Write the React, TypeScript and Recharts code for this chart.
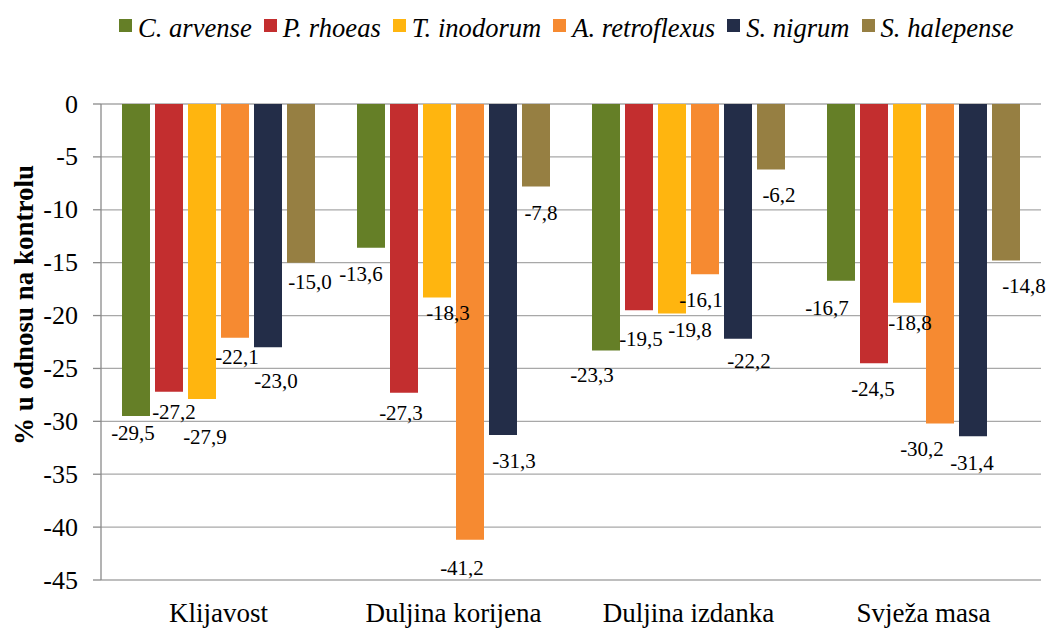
import React from 'react';
import { BarChart, Bar, XAxis, YAxis, CartesianGrid, Legend, LabelList } from 'recharts';

const categories = ['Klijavost', 'Duljina korijena', 'Duljina izdanka', 'Svježa masa'];
const seriesNames = ['C. arvense', 'P. rhoeas', 'T. inodorum', 'A. retroflexus', 'S. nigrum', 'S. halepense'];
const cArvense = [-29.5, -13.6, -23.3, -16.7];
const pRhoeas = [-27.2, -27.3, -19.5, -24.5];
const tInodorum = [-27.9, -18.3, -19.8, -18.8];
const aRetroflexus = [-22.1, -41.2, -16.1, -30.2];
const sNigrum = [-23.0, -31.3, -22.2, -31.4];
const sHalepense = [-15.0, -7.8, -6.2, -14.8];
const yTicks = [0, -5, -10, -15, -20, -25, -30, -35, -40, -45];

const seriesValues = [cArvense, pRhoeas, tInodorum, aRetroflexus, sNigrum, sHalepense];
const colors = ['#657F27', '#C32E2F', '#FFB50F', '#F68A31', '#232D48', '#967F42'];

// data-label nudges [dx, dy from bar end] per series, per category
const labelNudges = [
  [[-3, 17], [-10, 26], [-14, 25], [-14, 27]],
  [[5, 20], [-3, 20], [2, 29], [-1, 26]],
  [[3, 38], [11, 15], [18, 17], [3, 20]],
  [[2, 19], [-8, 28], [-4, 26], [-18, 26]],
  [[8, 34], [11, 26], [11, 22], [-1, 27]],
  [[9, 19], [5, 26], [8, 25], [18, 25]],
];

const data = categories.map((c, ci) => {
  const row: any = { category: c };
  seriesNames.forEach((s, si) => {
    row[s] = seriesValues[si][ci];
  });
  return row;
});

const FONT = "Liberation Serif, Tinos, Times New Roman, Times, serif";
const W = 1050;
const H = 629;
const PLOT_LEFT = 101;
const PLOT_RIGHT = 1041;
const PLOT_W = PLOT_RIGHT - PLOT_LEFT;
const LEGEND_H = 50;
const AXIS_COLOR = '#8a8a8a';
const GRID_COLOR = '#a8a8a8';

const fmt = (v: any) => Number(v).toFixed(1).replace('.', ',');

const makeLabel = (si: number) => (props: any) => {
  const { x, y, width, height, value, index } = props;
  const yy = Number(y);
  const hh = Number(height);
  const end = Math.max(yy, yy + hh);
  const nudge = labelNudges[si][index] || [0, 20];
  return (
    <text
      x={Number(x) + Number(width) / 2 + nudge[0]}
      y={end + nudge[1]}
      textAnchor="middle"
      dominantBaseline="central"
      style={{ fontFamily: FONT }}
      fontSize={21}
      fill="#000"
    >
      {fmt(value)}
    </text>
  );
};

const TopTick = (props: any) => {
  const { x, y, index } = props;
  const bw = PLOT_W / categories.length;
  const yy = Number(y);
  return (
    <g>
      <line x1={x - bw / 2} x2={x - bw / 2} y1={yy} y2={yy + 7} stroke={AXIS_COLOR} strokeWidth={1.3} />
      {index === categories.length - 1 && (
        <line x1={x + bw / 2} x2={x + bw / 2} y1={yy} y2={yy + 7} stroke={AXIS_COLOR} strokeWidth={1.3} />
      )}
    </g>
  );
};

const BottomTick = (props: any) => {
  const { x, y, payload } = props;
  return (
    <text x={x} y={Number(y) + 42} textAnchor="middle" style={{ fontFamily: FONT }} fontSize={27} fill="#000">
      {payload.value}
    </text>
  );
};

const YTick = (props: any) => {
  const { x, y, payload } = props;
  return (
    <text x={x} y={y} textAnchor="end" dominantBaseline="central" style={{ fontFamily: FONT }} fontSize={26} fill="#000">
      {payload.value}
    </text>
  );
};

const YLabel = () => (
  <text
    x={33}
    y={305}
    transform="rotate(-90 33 305)"
    textAnchor="middle"
    style={{ fontFamily: FONT }}
    fontWeight="bold"
    fontSize={27}
    fill="#000"
  >
    % u odnosu na kontrolu
  </text>
);

const renderLegend = () => (
  <div
    style={{
      display: 'flex',
      alignItems: 'flex-start',
      paddingLeft: 119,
      paddingTop: 13,
      fontFamily: FONT,
      fontStyle: 'italic',
      fontSize: 26.6,
      lineHeight: '30px',
      color: '#000',
      whiteSpace: 'nowrap',
    }}
  >
    {seriesNames.map((n, i) => (
      <div key={n} style={{ display: 'flex', alignItems: 'flex-start', marginRight: 12 }}>
        <span
          style={{
            display: 'inline-block',
            width: 13,
            height: 13,
            background: colors[i],
            marginRight: 6,
            marginTop: 6,
          }}
        />
        <span>{n}</span>
      </div>
    ))}
  </div>
);

export default function App() {
  return (
    <div style={{ width: W, height: H, background: '#fff' }}>
      <style>{`body{margin:0;background:#fff;}`}</style>
      <BarChart
        width={W}
        height={H}
        data={data}
        margin={{ top: 104 - LEGEND_H, right: W - PLOT_RIGHT, bottom: 0, left: 0 }}
        barCategoryGap={21}
        barGap={5}
      >
        <CartesianGrid vertical={false} stroke={GRID_COLOR} strokeWidth={1.3} />
        <XAxis
          dataKey="category"
          orientation="bottom"
          height={49}
          axisLine={false}
          tickLine={false}
          tickSize={0}
          tickMargin={0}
          interval={0}
          tick={<BottomTick />}
        />
        <XAxis
          xAxisId="top"
          dataKey="category"
          orientation="top"
          height={0}
          axisLine={{ stroke: AXIS_COLOR, strokeWidth: 1.3 }}
          tickLine={false}
          tickSize={0}
          tickMargin={0}
          interval={0}
          tick={<TopTick />}
        />
        <YAxis
          type="number"
          domain={[-45, 0]}
          ticks={yTicks}
          interval={0}
          width={PLOT_LEFT}
          tickSize={8}
          tickMargin={15}
          axisLine={{ stroke: AXIS_COLOR, strokeWidth: 1.3 }}
          tickLine={{ stroke: AXIS_COLOR, strokeWidth: 1.3 }}
          tick={<YTick />}
          label={<YLabel />}
        />
        <Legend
          layout="horizontal"
          verticalAlign="top"
          align="center"
          wrapperStyle={{ top: 0, left: 0, width: W, height: LEGEND_H }}
          content={renderLegend}
        />
        {seriesNames.map((s, si) => (
          <Bar key={s} dataKey={s} name={s} fill={colors[si]} isAnimationActive={false}>
            <LabelList dataKey={s} content={makeLabel(si)} />
          </Bar>
        ))}
      </BarChart>
    </div>
  );
}
